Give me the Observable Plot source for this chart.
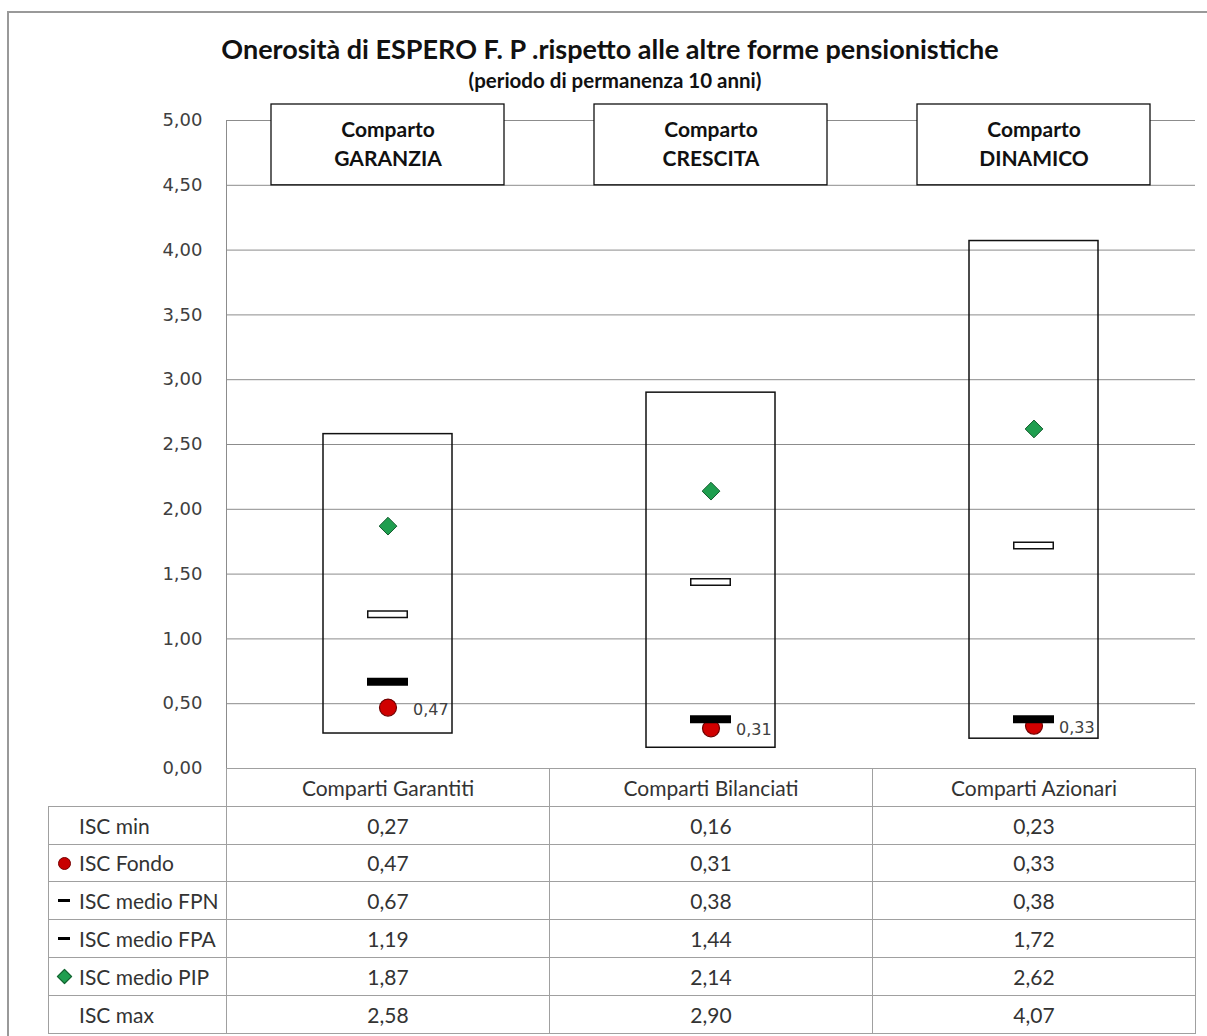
<!DOCTYPE html>
<html>
<head>
<meta charset="utf-8">
<script src="https://cdn.jsdelivr.net/npm/d3@7"></script>
<script src="https://cdn.jsdelivr.net/npm/@observablehq/plot@0.6"></script>
<style>
  html, body { margin: 0; padding: 0; background: #fff; }
  #wrap { position: relative; width: 1207px; height: 1036px; overflow: hidden; font-family: Lato, "Open Sans", sans-serif; }
  #frame { position: absolute; left: 7px; top: 11px; width: 1300px; height: 1100px; border-left: 2px solid #999; border-top: 2px solid #999; }
  #title { position: absolute; left: 0; top: 33px; width: 1220px; text-align: center; font-weight: bold; font-size: 27px; color: #111; line-height: 32px; }
  #subtitle { position: absolute; left: 0; top: 69px; width: 1230px; text-align: center; font-weight: bold; font-size: 20.5px; color: #111; line-height: 22px; }
  #chart { position: absolute; left: 0; top: 0; }
  #tbl { position: absolute; left: 48px; top: 768px; border-collapse: collapse; font-size: 21px; color: #333; }
  #tbl td { border: 1px solid #a0a0a0; height: 37.8px; padding: 0; text-align: center; box-sizing: border-box; }
  #tbl td.lab { width: 178px; text-align: left; padding-left: 30px; position: relative; white-space: nowrap; }
  #tbl td.val { width: 323px; }
  #tbl tr.head td.blank { border: none; border-bottom: 1px solid #a0a0a0; }
  .mk { position: absolute; top: 50%; }
  .mk.dot { left: 9px; width: 11px; height: 11px; margin-top: -6px; border-radius: 50%; background: #c80000; border: 1px solid #700; }
  .mk.dash { left: 9px; width: 12px; height: 3px; margin-top: -2px; background: #000; }
  .mk.dia { left: 10px; width: 9px; height: 9px; margin-top: -5px; background: #1f9e4f; border: 1px solid #145c2e; transform: rotate(45deg); }
</style>
</head>
<body>
<div id="wrap">
  <div id="frame"></div>
  <div id="chart"></div>
  <div id="title">Onerosità di ESPERO F. P .rispetto alle altre forme pensionistiche</div>
  <div id="subtitle">(periodo di permanenza 10 anni)</div>
  <table id="tbl"></table>
</div>
<script>
// ---- data ----
const comparti = ["Comparti Garantiti", "Comparti Bilanciati", "Comparti Azionari"];
const compartoHeaders = ["Comparto\nGARANZIA", "Comparto\nCRESCITA", "Comparto\nDINAMICO"];
const iscMin   = [0.27, 0.16, 0.23];
const iscFondo = [0.47, 0.31, 0.33];
const iscFPN   = [0.67, 0.38, 0.38];
const iscFPA   = [1.19, 1.44, 1.72];
const iscPIP   = [1.87, 2.14, 2.62];
const iscMax   = [2.58, 2.90, 4.07];
const yTicks = [0, 0.5, 1, 1.5, 2, 2.5, 3, 3.5, 4, 4.5, 5];
const rowLabels = ["ISC min", "ISC Fondo", "ISC medio FPN", "ISC medio FPA", "ISC medio PIP", "ISC max"];
const rowMarkers = ["", "dot", "dash", "dash", "dia", ""];

const fmt = v => d3.format(".2f")(v).replace(".", ",");

const data = comparti.map((c, i) => ({
  cat: c, head: compartoHeaders[i],
  min: iscMin[i], fondo: iscFondo[i], fpn: iscFPN[i], fpa: iscFPA[i], pip: iscPIP[i], max: iscMax[i]
}));

const chart = Plot.plot({
  width: 1207,
  height: 770,
  marginTop: 120,
  marginBottom: 2,
  marginLeft: 226,
  marginRight: 12,
  x: { domain: comparti, padding: 0, axis: null },
  y: { domain: [0, 5] },
  style: { background: "transparent", overflow: "visible" },
  marks: [
    Plot.gridY(yTicks, { stroke: "#8c8c8c", strokeOpacity: 1, strokeWidth: 1 }),
    Plot.frame({ anchor: "left", stroke: "#8c8c8c" }),
    Plot.axisY(yTicks, { tickSize: 0, tickPadding: 24, fontSize: 18, fontFamily: "DejaVu Sans", fill: "#404040", tickFormat: fmt, label: null }),
    // min-max boxes
    Plot.barY(data, { x: "cat", y1: "min", y2: "max", fill: "none", stroke: "#111", strokeWidth: 1.5, insetLeft: 97, insetRight: 97 }),
    // header boxes
    Plot.barY(data, { x: "cat", y1: 4.5, y2: 5, fill: "white", stroke: "#111", strokeWidth: 1.3, insetLeft: 45, insetRight: 45, insetTop: -16, insetBottom: 0 }),
    Plot.text(data, { x: "cat", y: 4.5, text: "head", dy: -43, lineHeight: 1.4, fontSize: 21, fontWeight: "bold", fontFamily: "Lato", fill: "#111" }),
    // ISC Fondo
    Plot.dot(data, { x: "cat", y: "fondo", r: 8.5, fill: "#d00000", stroke: "#6e0000", strokeWidth: 1.2 }),
    Plot.text(data, { x: "cat", y: "fondo", text: d => fmt(d.fondo), dx: 25, dy: 2, textAnchor: "start", fontSize: 16, fontFamily: "DejaVu Sans", fill: "#404040" }),
    // ISC medio FPN (black bar)
    Plot.tickY(data, { x: "cat", y: "fpn", stroke: "#000", strokeWidth: 8, insetLeft: 141, insetRight: 141 }),
    // ISC medio FPA (white bar)
    Plot.tickY(data, { x: "cat", y: "fpa", stroke: "#111", strokeWidth: 8, insetLeft: 141, insetRight: 141 }),
    Plot.tickY(data, { x: "cat", y: "fpa", stroke: "#fff", strokeWidth: 5, insetLeft: 142.5, insetRight: 142.5 }),
    // ISC medio PIP
    Plot.dot(data, { x: "cat", y: "pip", symbol: "diamond2", r: 8, fill: "#1f9e4f", stroke: "#145c2e", strokeWidth: 1 })
  ]
});
document.getElementById("chart").appendChild(chart);

// ---- table ----
const tbl = document.getElementById("tbl");
let html = '<tr class="head"><td class="lab blank"></td>' + comparti.map(c => `<td class="val">${c}</td>`).join("") + "</tr>";
const series = [iscMin, iscFondo, iscFPN, iscFPA, iscPIP, iscMax];
rowLabels.forEach((lab, r) => {
  const mk = rowMarkers[r] ? `<span class="mk ${rowMarkers[r]}"></span>` : "";
  html += `<tr><td class="lab">${mk}${lab}</td>` + series[r].map(v => `<td class="val">${fmt(v)}</td>`).join("") + "</tr>";
});
tbl.innerHTML = html;
</script>
</body>
</html>
